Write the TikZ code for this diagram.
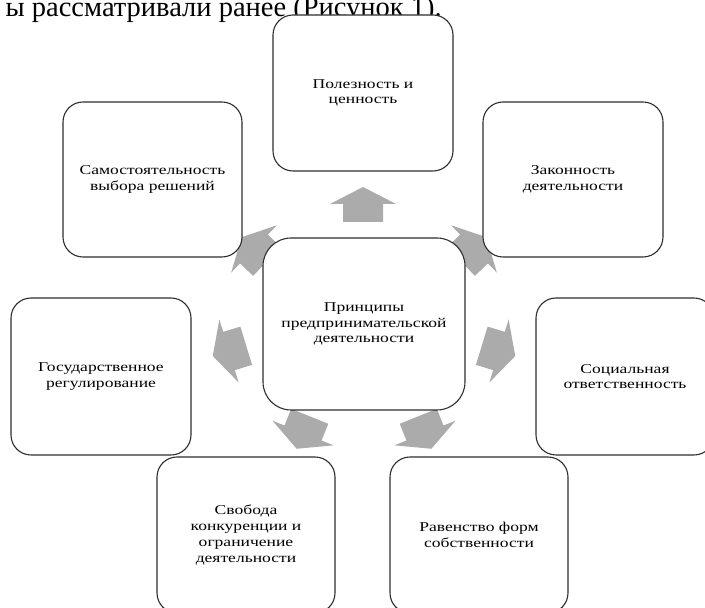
\documentclass[tikz,border=0pt]{standalone}
\usepackage{fontspec}
\setmainfont{Liberation Serif}[FakeStretch=1.3]
\newfontfamily\headserif{Liberation Serif}
\definecolor{arrowgray}{HTML}{ABABAB}
\definecolor{linegray}{HTML}{2E2E2E}
\begin{document}
\begin{tikzpicture}[x=1pt,y=1pt,
  box/.style={draw=linegray, line width=1.1pt, rounded corners=20pt, fill=white,
    align=center, inner sep=0pt, font=\fontsize{13.5}{15.7}\selectfont},
  blockarrow/.pic={\fill[arrowgray] (-18,-20) -- (0,-20) -- (0,-33) -- (17,0)
    -- (0,33) -- (0,20) -- (-18,20) -- cycle;}
]
\useasboundingbox (0,0) rectangle (705,608);
\clip (0,0) rectangle (705,608);
\node[anchor=base east, inner sep=0pt, font=\headserif\fontsize{28.5}{32}\selectfont] (head) at (442,591)
  {ы рассматривали ранее (Рисунок 1).};
% arrows
\pic (aU)  [rotate=90]  at (363,404) {blockarrow};
\pic (aUL) [rotate=136] at (254,359) {blockarrow};
\pic (aUR) [rotate=44]  at (474,359) {blockarrow};
\pic (aL)  [rotate=197] at (229,257) {blockarrow};
\pic (aR)  [rotate=-17] at (499,257) {blockarrow};
\pic (aBL) [rotate=248] at (303,175) {blockarrow};
\pic (aBR) [rotate=292] at (425,175) {blockarrow};
% boxes
\node[box, rounded corners=28pt, minimum width=202pt, minimum height=172pt] (c) at (364,284)
  {Принципы\\предпринимательской\\деятельности};
\node[box, minimum width=180pt, minimum height=156pt] (top) at (363,515)
  {Полезность и\\ценность};
\node[box, minimum width=179pt, minimum height=155pt] (ul) at (152.5,428.5)
  {Самостоятельность\\выбора решений};
\node[box, minimum width=180pt, minimum height=155pt] (ur) at (573,428.5)
  {Законность\\деятельности};
\node[box, minimum width=180pt, minimum height=157pt] (l) at (101,231.5)
  {Государственное\\регулирование};
\node[box, minimum width=178pt, minimum height=157pt] (r) at (625,231.5)
  {Социальная\\ответственность};
\node[box, minimum width=178pt, minimum height=156pt] (bl) at (246,73)
  {Свобода\\конкуренции и\\ограничение\\деятельности};
\node[box, minimum width=178pt, minimum height=156pt] (br) at (479,73)
  {Равенство форм\\собственности};
\end{tikzpicture}
\end{document}
